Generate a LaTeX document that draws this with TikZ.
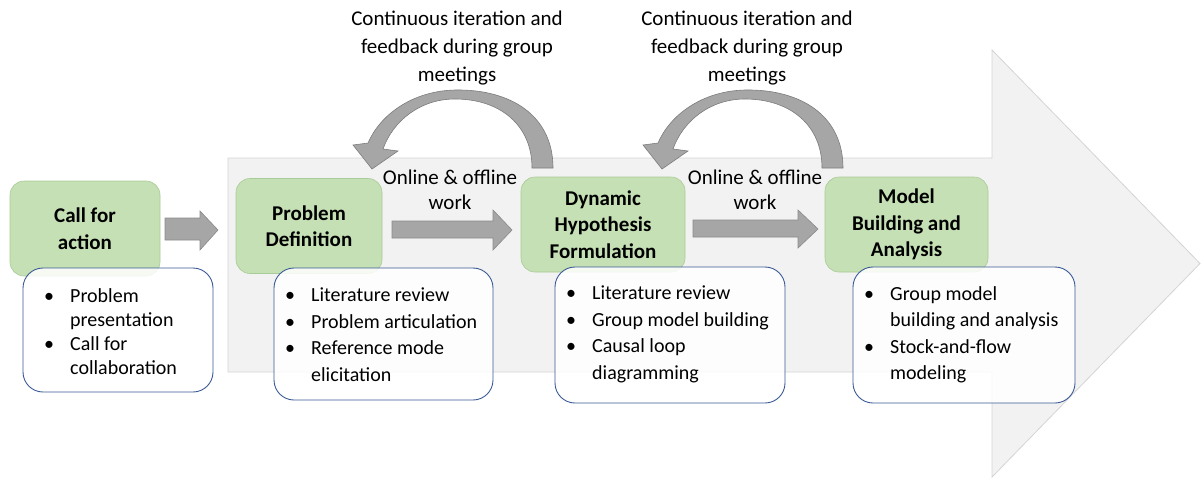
\documentclass[tikz,border=0pt]{standalone}
\usepackage{fontspec}
\setmainfont{Carlito}
\definecolor{bigfill}{HTML}{F2F2F2}
\definecolor{bigline}{HTML}{D4D4D4}
\definecolor{greenfill}{HTML}{C5E0B4}
\definecolor{greenline}{HTML}{A9CB97}
\definecolor{blueline}{HTML}{3A5A96}
\definecolor{arrfill}{HTML}{A6A6A6}
\definecolor{arrline}{HTML}{8A8A8A}
\newcommand\bl{\makebox[26pt][l]{\textbullet}}
\newcommand\ind{\hspace*{26pt}}
\tikzset{
  phase/.style={draw=greenline, fill=greenfill, rounded corners=14pt, line width=0.6pt,
    inner sep=0pt, align=center, font=\fontsize{21}{26.5}\selectfont\bfseries},
  detail/.style={draw=blueline, fill=white, fill opacity=0.85, rounded corners=20pt, line width=0.9pt, inner sep=0pt},
  bullets/.style={inner sep=0pt, align=left, anchor=north west, font=\fontsize{20}{26.5}\selectfont},
  blockarrow/.style={draw=arrline, fill=arrfill, line width=0.6pt},
  arcarrow/.style={draw=arrline!90!black, fill=arrfill, line width=0.6pt},
  label/.style={align=center, inner sep=0pt, font=\fontsize{21}{28}\selectfont},
  worklabel/.style={align=center, inner sep=0pt, font=\fontsize{21}{25}\selectfont}
}
\begin{document}
\begin{tikzpicture}[x=1pt, y=-1pt]
\useasboundingbox (0,0) rectangle (1201,479);
% big background arrow
\draw[bigline, fill=bigfill, line width=0.8pt]
  (228,158) -- (992,158) -- (992,50) -- (1200,263.5) -- (992,477) -- (992,372) -- (228,372) -- cycle;

% feedback arcs
\foreach \s in {0,290}{
\filldraw[arcarrow, shift={(\s,0)}]
  (553,168) .. controls (553,115) and (510,89) .. (455,90)
  .. controls (412,91) and (380,115) .. (368,143)
  -- (353,145) -- (372,169) -- (398,151) -- (383,149)
  .. controls (393,121) and (420,99) .. (455,99)
  .. controls (500,99) and (532,125) .. (532,168) -- cycle;
}

% labels above
\node[label] (fb1) at (457,48) {Continuous iteration and\\feedback during group\\meetings};
\node[label] (fb2) at (747,48) {Continuous iteration and\\feedback during group\\meetings};

% phase boxes
\node[phase, minimum width=150pt, minimum height=95pt] (call) at (85,228.5) {Call for\\action};
\node[phase, minimum width=146pt, minimum height=95pt] (prob) at (309,226) {Problem\\Definition};
\node[phase, minimum width=164pt, minimum height=95pt] (dyn) at (603,224.5) {Dynamic\\Hypothesis\\Formulation};
\node[phase, minimum width=163pt, minimum height=95pt] (mod) at (906.5,224.5) {Model\\Building and\\Analysis};

% block arrows between phases
\filldraw[blockarrow] (165,218) -- (200,218) -- (200,211) -- (218,230) -- (200,250) -- (200,240) -- (165,240) -- cycle;
\filldraw[blockarrow] (392,221) -- (493,221) -- (493,210) -- (512,230) -- (493,250) -- (493,238) -- (392,238) -- cycle;
\filldraw[blockarrow] (693,220) -- (798,220) -- (798,210) -- (818,229) -- (798,248) -- (798,237) -- (693,237) -- cycle;

\node[worklabel] (w1) at (450,190) {Online \& offline\\work};
\node[worklabel] (w2) at (755,190) {Online \& offline\\work};

% detail boxes
\node[detail, minimum width=190pt, minimum height=124pt] (d1) at (118,330) {};
\node[detail, minimum width=219pt, minimum height=132pt] (d2) at (383.5,334) {};
\node[detail, minimum width=230pt, minimum height=136pt] (d3) at (670,335) {};
\node[detail, minimum width=222pt, minimum height=136pt] (d4) at (964,335) {};

\node[bullets, font=\fontsize{20}{24.2}\selectfont] (t1) at (44,288) {\bl Problem\\\ind presentation\\\bl Call for\\\ind collaboration};
\node[bullets] (t2) at (285,288) {\bl Literature review\\\bl Problem articulation\\\bl Reference mode\\\ind elicitation};
\node[bullets] (t3) at (566,286) {\bl Literature review\\\bl Group model building\\\bl Causal loop\\\ind diagramming};
\node[bullets] (t4) at (864,286) {\bl Group model\\\ind building and analysis\\\bl Stock-and-flow\\\ind modeling};
\end{tikzpicture}
\end{document}
